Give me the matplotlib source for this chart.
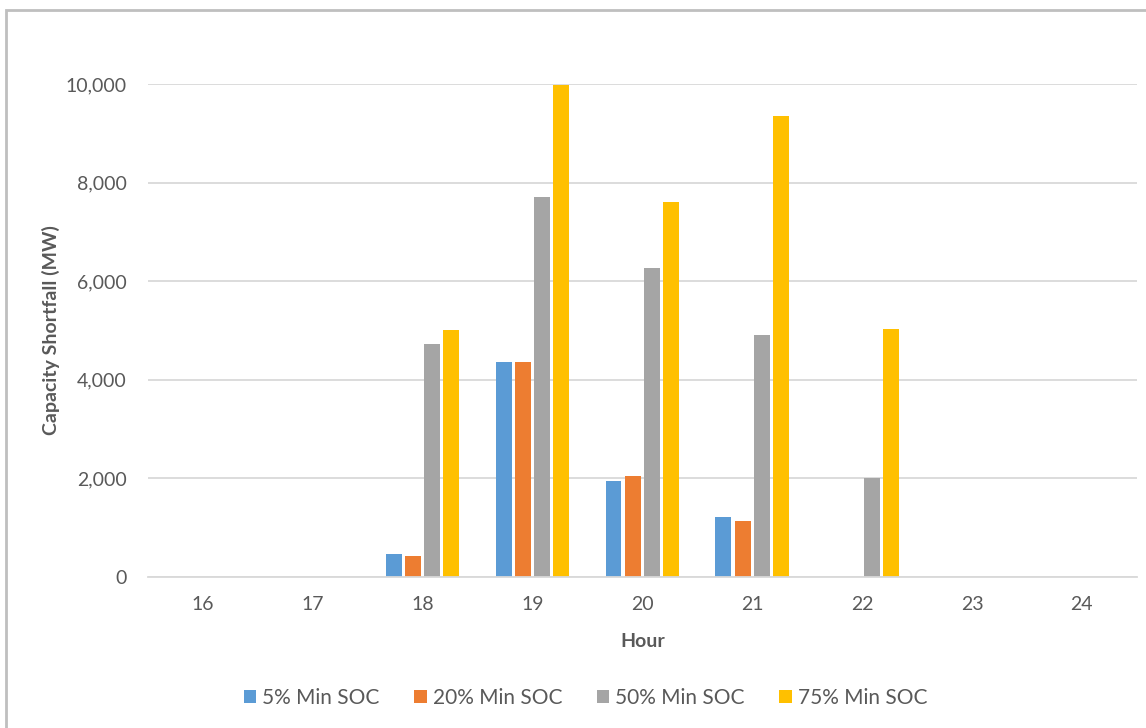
import matplotlib.pyplot as plt
import numpy as np
from matplotlib.ticker import FuncFormatter, MultipleLocator
from matplotlib.patches import Rectangle

plt.rcParams["font.family"] = ["Lato", "DejaVu Sans"]

horas = ["16", "17", "18", "19", "20", "21", "22", "23", "24"]
series = ["5% Min SOC", "20% Min SOC", "50% Min SOC", "75% Min SOC"]
soc_5 = [0, 0, 460, 4360, 1950, 1220, 0, 0, 0]
soc_20 = [0, 0, 430, 4360, 2050, 1140, 0, 0, 0]
soc_50 = [0, 0, 4720, 7700, 6270, 4900, 2010, 0, 0]
soc_75 = [0, 0, 5020, 9980, 7600, 9350, 5030, 0, 0]

colores = ["#5B9BD5", "#ED7D31", "#A5A5A5", "#FFC000"]
gris_texto = "#595959"

fig = plt.figure(figsize=(11.46, 7.28), dpi=100)
ax = fig.add_axes([0.129, 0.2074, 0.863, 0.6772])

x = np.arange(len(horas))
ancho = 0.145
paso = 0.175
for i, (nombre, valores) in enumerate(zip(series, [soc_5, soc_20, soc_50, soc_75])):
    ax.bar(x + (i - 1.5) * paso, valores, width=ancho, color=colores[i],
           label=nombre, zorder=2)

ax.set_xlim(-0.5, len(horas) - 0.5)
ax.set_ylim(0, 10000)
ax.yaxis.set_major_locator(MultipleLocator(2000))
ax.yaxis.set_major_formatter(FuncFormatter(lambda v, p: f"{int(v):,}"))
ax.set_xticks(x)
ax.set_xticklabels(horas)
ax.grid(axis="y", color="#D9D9D9", linewidth=1.3, zorder=0)
ax.tick_params(length=0, labelsize=14, colors=gris_texto, pad=14)
ax.tick_params(axis="y", pad=15)
for lado in ["top", "right", "left"]:
    ax.spines[lado].set_visible(False)
ax.spines["bottom"].set_color("#D9D9D9")
ax.spines["bottom"].set_linewidth(1.3)

ax.set_xlabel("Hour", fontsize=14, fontweight="bold", color=gris_texto, labelpad=14)
ax.set_ylabel("Capacity Shortfall (MW)", fontsize=14, fontweight="bold",
              color=gris_texto, labelpad=4)

fig.legend(loc="center", bbox_to_anchor=(0.511, 0.041), ncol=4, frameon=False,
           fontsize=15, labelcolor=gris_texto, handlelength=0.6, handleheight=0.6,
           handletextpad=0.3, columnspacing=1.65)

# marco exterior del grafico
fig.patches.append(Rectangle((6 / 1146, -0.01), 1.1, 1 - 10 / 728 + 0.01,
                             transform=fig.transFigure, fill=False,
                             edgecolor="#BFBFBF", linewidth=2))

fig.savefig("out.png", dpi=100)
